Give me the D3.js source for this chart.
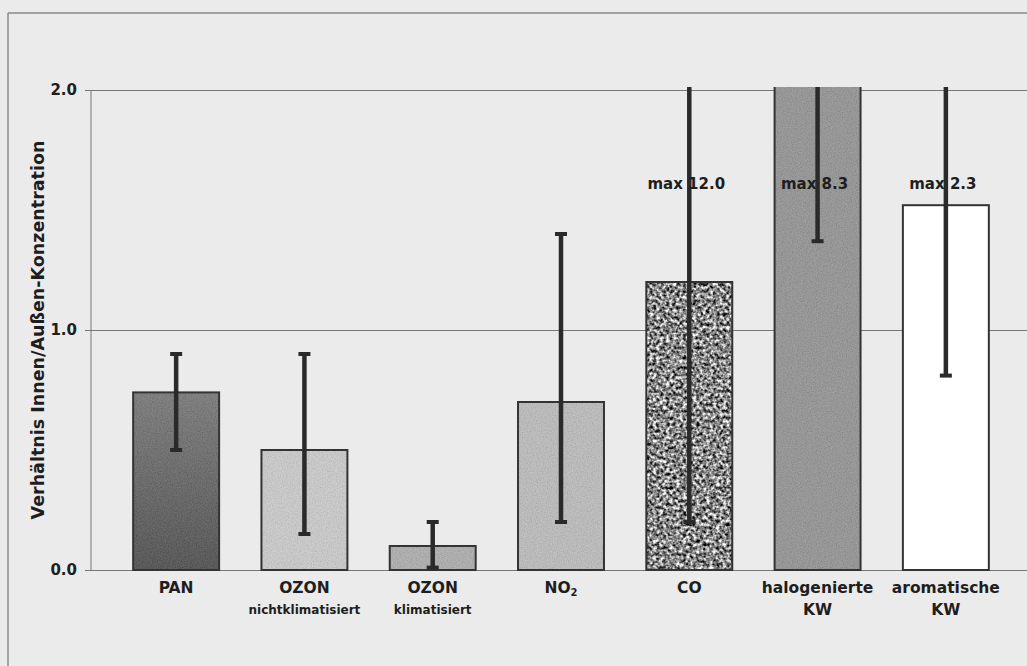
<!DOCTYPE html>
<html><head><meta charset="utf-8">
<script src="https://cdn.jsdelivr.net/npm/d3@7"></script>
<style>
html,body{margin:0;padding:0;background:#ebebeb;}
svg{display:block;}
text{font-family:"DejaVu Sans",sans-serif;font-weight:bold;fill:#1e1e1e;}
</style></head>
<body>
<script>
// ---- data ----
const labelTop = ["PAN", "OZON", "OZON", "NO", "CO", "halogenierte", "aromatische"];
const labelSub = ["", "nichtklimatisiert", "klimatisiert", "", "", "KW", "KW"];
const ratio    = [0.74, 0.50, 0.10, 0.70, 1.20, 2.50, 1.52];
const errLow   = [0.50, 0.15, 0.01, 0.20, 0.20, 1.37, 0.81];
const errHigh  = [0.90, 0.90, 0.20, 1.40, 12.0, 8.3, 2.3];
const maxNote  = ["", "", "", "", "max 12.0", "max 8.3", "max 2.3"];
const yTicks   = [0, 1, 2];
const yTitle   = "Verhältnis Innen/Außen-Konzentration";

const W = 1027, H = 666;
const svg = d3.select("body").append("svg").attr("width", W).attr("height", H);
const defs = svg.append("defs");

// textures
const grain = defs.append("filter").attr("id","grain").attr("x",0).attr("y",0).attr("width",1).attr("height",1);
grain.append("feTurbulence").attr("type","fractalNoise").attr("baseFrequency","0.8").attr("numOctaves",2).attr("seed",4).attr("result","n");
grain.append("feColorMatrix").attr("in","n").attr("type","matrix")
  .attr("values","1 0 0 0 0  1 0 0 0 0  1 0 0 0 0  0 0 0 0 0.22").attr("result","g");
grain.append("feComposite").attr("in","g").attr("in2","SourceGraphic").attr("operator","in");

const speck = defs.append("filter").attr("id","speck").attr("x",0).attr("y",0).attr("width",1).attr("height",1)
  .attr("color-interpolation-filters","sRGB");
speck.append("feTurbulence").attr("type","fractalNoise").attr("baseFrequency","0.3").attr("numOctaves",2).attr("seed",7).attr("result","n");
speck.append("feColorMatrix").attr("in","n").attr("type","matrix")
  .attr("values","1.9 0 0 0 -0.42  1.9 0 0 0 -0.42  1.9 0 0 0 -0.42  0 0 0 0 1").attr("result","g");
speck.append("feComposite").attr("in","g").attr("in2","SourceGraphic").attr("operator","in");

const grad = defs.append("linearGradient").attr("id","panGrad").attr("x1",0).attr("y1",0).attr("x2",0).attr("y2",1);
grad.append("stop").attr("offset","0%").attr("stop-color","#6e6e6e");
grad.append("stop").attr("offset","100%").attr("stop-color","#3e3e3e");

const fills = ["url(#panGrad)", "#cacaca", "#a9a9a9", "#b9b9b9", "#8a8a8a", "#8c8c8c", "#ffffff"];
const texture = ["grain", "grain", "grain", "grain", "speck", "grain", null];

// frame
svg.append("line").attr("x1",8).attr("x2",W).attr("y1",13).attr("y2",13).attr("stroke","#8a8a8a").attr("stroke-width",1.5);
svg.append("line").attr("x1",8).attr("x2",8).attr("y1",13).attr("y2",H).attr("stroke","#8a8a8a").attr("stroke-width",1.5);

// scales
const idx = d3.range(labelTop.length);
const x = d3.scaleBand().domain(idx).range([112, 1010]).paddingInner(0.33).paddingOuter(0.165);
const y = d3.scaleLinear().domain([0, 2]).range([570, 90]);

defs.append("clipPath").attr("id","plotClip").append("rect")
  .attr("x", 0).attr("y", y(2) - 3).attr("width", W).attr("height", y(0) - y(2) + 10);

// y axis with gridlines
const axis = svg.append("g").attr("transform", `translate(${W},0)`)
  .call(d3.axisLeft(y).tickValues(yTicks).tickFormat(d3.format(".1f")).tickSize(W - 85).tickPadding(8));
axis.select(".domain").remove();
axis.selectAll(".tick line").attr("stroke","#777").attr("stroke-width",1);
axis.selectAll(".tick text").attr("font-size",15).attr("font-family","DejaVu Sans").attr("font-weight","bold").attr("fill","#1e1e1e");
svg.append("line").attr("x1",91).attr("x2",91).attr("y1",y(2)).attr("y2",y(0)).attr("stroke","#777").attr("stroke-width",1);

// y title
svg.append("text").attr("transform", `translate(44,${(y(0)+y(2))/2}) rotate(-90)`)
  .attr("text-anchor","middle").attr("font-size",17.5).text(yTitle);

const plot = svg.append("g").attr("clip-path","url(#plotClip)");

// bars
plot.selectAll("rect.bar").data(idx).join("rect").attr("class","bar")
  .attr("x", i => x(i)).attr("width", x.bandwidth())
  .attr("y", i => y(ratio[i])).attr("height", i => y(0) - y(ratio[i]))
  .attr("fill", i => fills[i]);
plot.selectAll("rect.tex").data(idx.filter(i => texture[i])).join("rect").attr("class","tex")
  .attr("x", i => x(i)).attr("width", x.bandwidth())
  .attr("y", i => y(ratio[i])).attr("height", i => y(0) - y(ratio[i]))
  .attr("fill", "#fff")
  .attr("filter", i => `url(#${texture[i]})`);
plot.selectAll("rect.outline").data(idx).join("rect").attr("class","outline")
  .attr("x", i => x(i)).attr("width", x.bandwidth())
  .attr("y", i => y(ratio[i])).attr("height", i => y(0) - y(ratio[i]))
  .attr("fill", "none").attr("stroke", "#333").attr("stroke-width", 2);

// max notes (behind error bars)
svg.selectAll("text.note").data(idx.filter(i => maxNote[i])).join("text").attr("class","note")
  .attr("x", i => x(i) + x.bandwidth()/2 - 3).attr("y", 189)
  .attr("text-anchor","middle").attr("font-size",15).text(i => maxNote[i]);

// error bars
const cx = i => x(i) + x.bandwidth()/2;
plot.selectAll("line.err").data(idx).join("line").attr("class","err")
  .attr("x1", cx).attr("x2", cx)
  .attr("y1", i => y(errLow[i])).attr("y2", i => y(errHigh[i]))
  .attr("stroke","#2a2a2a").attr("stroke-width",4.5);
const caps = [];
idx.forEach(i => { caps.push({i, v: errLow[i]}); if (errHigh[i] <= 2) caps.push({i, v: errHigh[i]}); });
plot.selectAll("line.cap").data(caps).join("line").attr("class","cap")
  .attr("x1", d => cx(d.i) - 6).attr("x2", d => cx(d.i) + 6)
  .attr("y1", d => y(d.v)).attr("y2", d => y(d.v))
  .attr("stroke","#2a2a2a").attr("stroke-width",4);

// category labels
const lab = svg.selectAll("text.cat").data(idx).join("text").attr("class","cat")
  .attr("x", cx).attr("y", 593).attr("text-anchor","middle").attr("font-size",15.5)
  .text(i => labelTop[i]);
lab.filter(i => labelTop[i] === "NO").append("tspan").attr("font-size",10).attr("dy",3).text("2");
svg.selectAll("text.sub").data(idx.filter(i => labelSub[i])).join("text").attr("class","sub")
  .attr("x", cx).attr("y", i => labelSub[i] === "KW" ? 615 : 614)
  .attr("text-anchor","middle").attr("font-size", i => labelSub[i] === "KW" ? 15.5 : 12)
  .text(i => labelSub[i]);
</script>
</body></html>
